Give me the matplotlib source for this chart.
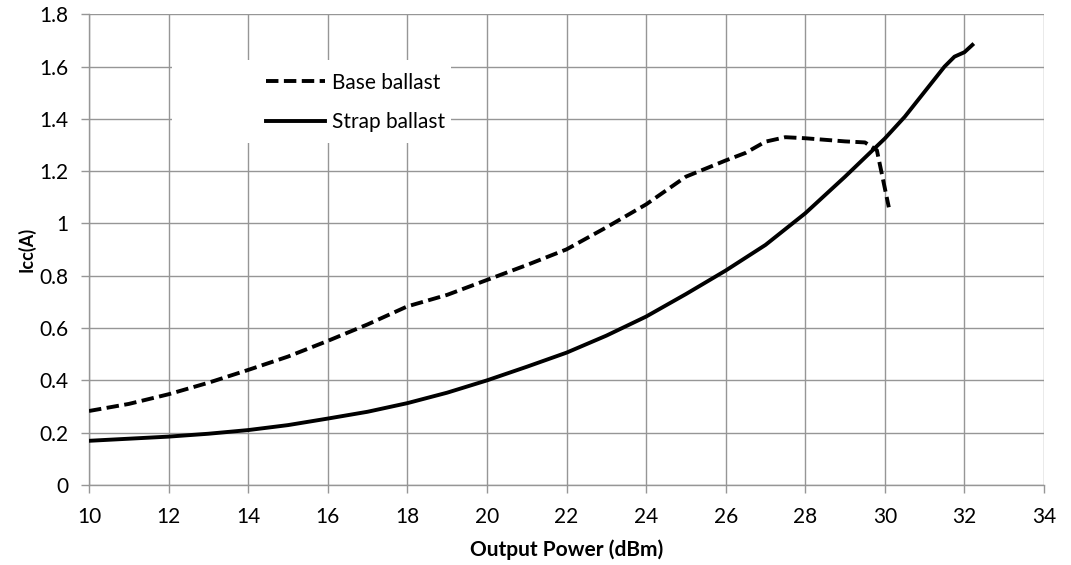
import matplotlib
matplotlib.use("Agg")
from matplotlib import pyplot as plt
from matplotlib.patches import Rectangle

plt.rcParams['font.family'] = ['Lato', 'DejaVu Sans']

# Base ballast (dashed)
base_x = [10, 11, 12, 13, 14, 15, 16, 17, 18, 19, 20, 21, 22, 23, 24, 25, 26,
          26.5, 27, 27.5, 28, 29, 29.5, 29.8, 30.1]
base_y = [0.283, 0.31, 0.347, 0.391, 0.44, 0.491, 0.551, 0.614, 0.683, 0.727,
          0.784, 0.841, 0.901, 0.985, 1.073, 1.179, 1.241, 1.270, 1.313, 1.33,
          1.326, 1.314, 1.31, 1.28, 1.062]

# Strap ballast (solid)
strap_x = [10, 11, 12, 13, 14, 15, 16, 17, 18, 19, 20, 21, 22, 23, 24, 25, 26,
           27, 28, 29, 30, 30.5, 31, 31.5, 31.75, 32, 32.2]
strap_y = [0.169, 0.177, 0.185, 0.196, 0.21, 0.229, 0.254, 0.28, 0.313, 0.353,
           0.40, 0.452, 0.506, 0.571, 0.644, 0.730, 0.82, 0.918, 1.039, 1.179,
           1.325, 1.408, 1.504, 1.60, 1.638, 1.655, 1.683]

x_ticks = list(range(10, 35, 2))
y_ticks = [0, 0.2, 0.4, 0.6, 0.8, 1, 1.2, 1.4, 1.6, 1.8]
y_labels = ['0', '0.2', '0.4', '0.6', '0.8', '1', '1.2', '1.4', '1.6', '1.8']

fig = plt.figure(figsize=(10.71, 5.65), dpi=100)
ax = fig.add_axes([0.0831, 0.1416, 0.8917, 0.8331])

ax.plot(base_x, base_y, color="black", lw=2.8, dashes=(3.2, 1.4),
        label="Base ballast", zorder=3)
ax.plot(strap_x, strap_y, color="black", lw=2.8, label="Strap ballast",
        zorder=3)

ax.set_xlim(10, 34)
ax.set_ylim(0, 1.8)
ax.set_xticks(x_ticks)
ax.set_yticks(y_ticks)
ax.set_yticklabels(y_labels)
ax.tick_params(labelsize=15, length=5.8, color="#969696", width=1)
ax.tick_params(axis="y", pad=9)
ax.tick_params(axis="x", pad=10)
ax.grid(True, color="#969696", lw=1)
ax.set_axisbelow(True)
for s in ["top", "right"]:
    ax.spines[s].set_visible(False)
for s in ["left", "bottom"]:
    ax.spines[s].set_color("#969696")
    ax.spines[s].set_linewidth(1)

ax.set_xlabel("Output Power (dBm)", fontsize=15, fontweight="bold", labelpad=9)
ax.set_ylabel("Icc(A)", fontsize=13, fontweight="bold", labelpad=3)

# white area behind the legend hides the grid
ax.add_patch(Rectangle((0.087, 0.7266), 0.292, 0.1764, transform=ax.transAxes,
                       facecolor="white", edgecolor="none", zorder=1))

leg = ax.legend(loc="upper left", bbox_to_anchor=(0.1853, 0.876), fontsize=15,
                handlelength=2.85, handletextpad=0.3, labelspacing=0.95,
                frameon=False, borderpad=0, borderaxespad=0)

fig.savefig("out.png", dpi=100)
